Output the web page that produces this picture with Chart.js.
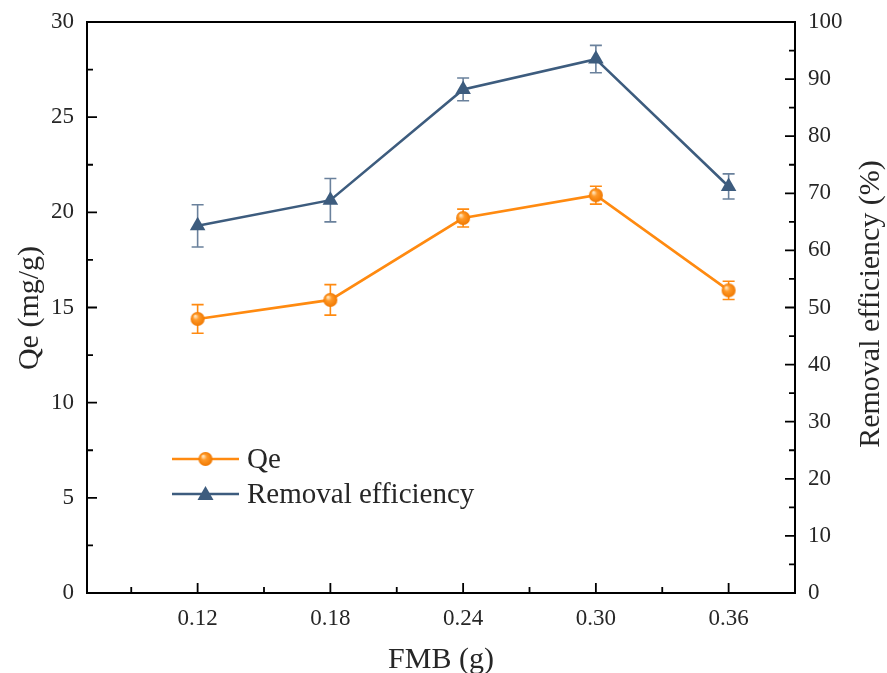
<!DOCTYPE html>
<html><head><meta charset="utf-8">
<script src="https://cdn.jsdelivr.net/npm/chart.js@4/dist/chart.umd.min.js"></script>
<style>html,body{margin:0;padding:0;background:#fff}</style>
</head><body>
<canvas id="c" width="887" height="673"></canvas>
<script>
const fmb = [0.12, 0.18, 0.24, 0.30, 0.36];
const qe = [14.4, 15.4, 19.7, 20.9, 15.9];
const qeErr = [0.75, 0.8, 0.47, 0.47, 0.48];
const removal = [64.3, 68.8, 88.2, 93.5, 71.2];
const removalErr = [3.7, 3.8, 2.0, 2.4, 2.2];
const xTicks = [0.12, 0.18, 0.24, 0.30, 0.36];
const xMinor = [0.09, 0.15, 0.21, 0.27, 0.33];
const qeTicks = [0, 5, 10, 15, 20, 25, 30];
const qeMinor = [2.5, 7.5, 12.5, 17.5, 22.5, 27.5];
const reTicks = [0, 10, 20, 30, 40, 50, 60, 70, 80, 90, 100];
const reMinor = [5, 15, 25, 35, 45, 55, 65, 75, 85, 95];
const xTitle = 'FMB (g)';
const qeTitle = 'Qe (mg/g)';
const reTitle = 'Removal efficiency (%)';

const ORANGE = '#ff8a10';
const BLUE = '#3d5c7e';
const BLUE_ERR = '#6a819c';
const TEXT = '#262626';
const FONT = '"Liberation Serif", "Times New Roman", serif';

function sphere(r) {
  const cv = document.createElement('canvas');
  cv.width = cv.height = 2 * r + 2;
  const g = cv.getContext('2d');
  const c = r + 1;
  const grad = g.createRadialGradient(c - r * 0.35, c - r * 0.4, r * 0.1, c, c, r);
  grad.addColorStop(0, '#ffe2b8');
  grad.addColorStop(0.35, '#ff9a2a');
  grad.addColorStop(1, '#f07800');
  g.fillStyle = grad;
  g.beginPath(); g.arc(c, c, r, 0, Math.PI * 2); g.fill();
  return cv;
}
const ball = sphere(7);

const extras = {
  id: 'extras',
  beforeDatasetsDraw(chart) {
    const ctx = chart.ctx, x = chart.scales.x;
    const draw = (vals, errs, scale, color) => {
      ctx.save(); ctx.strokeStyle = color; ctx.lineWidth = 1.6;
      fmb.forEach((f, i) => {
        const px = x.getPixelForValue(f);
        const t = scale.getPixelForValue(vals[i] + errs[i]);
        const b = scale.getPixelForValue(vals[i] - errs[i]);
        ctx.beginPath();
        ctx.moveTo(px, t); ctx.lineTo(px, b);
        ctx.moveTo(px - 6, t); ctx.lineTo(px + 6, t);
        ctx.moveTo(px - 6, b); ctx.lineTo(px + 6, b);
        ctx.stroke();
      });
      ctx.restore();
    };
    draw(removal, removalErr, chart.scales.y1, BLUE_ERR);
    draw(qe, qeErr, chart.scales.y, ORANGE);
  },
  afterDraw(chart) {
    const ctx = chart.ctx, a = chart.chartArea;
    const sx = chart.scales.x, sy = chart.scales.y, sr = chart.scales.y1;
    ctx.save();
    ctx.strokeStyle = '#000'; ctx.lineWidth = 2;
    ctx.strokeRect(a.left, a.top, a.right - a.left, a.bottom - a.top);
    ctx.lineWidth = 1.8;
    ctx.beginPath();
    xTicks.forEach(v => { const p = sx.getPixelForValue(v); ctx.moveTo(p, a.bottom); ctx.lineTo(p, a.bottom - 10); });
    xMinor.forEach(v => { const p = sx.getPixelForValue(v); ctx.moveTo(p, a.bottom); ctx.lineTo(p, a.bottom - 6); });
    qeTicks.forEach(v => { const p = sy.getPixelForValue(v); ctx.moveTo(a.left, p); ctx.lineTo(a.left + 10, p); });
    qeMinor.forEach(v => { const p = sy.getPixelForValue(v); ctx.moveTo(a.left, p); ctx.lineTo(a.left + 6, p); });
    reTicks.forEach(v => { const p = sr.getPixelForValue(v); ctx.moveTo(a.right, p); ctx.lineTo(a.right - 10, p); });
    reMinor.forEach(v => { const p = sr.getPixelForValue(v); ctx.moveTo(a.right, p); ctx.lineTo(a.right - 6, p); });
    ctx.stroke();
    // axis titles
    ctx.fillStyle = TEXT;
    ctx.font = '30px ' + FONT;
    ctx.textAlign = 'center';
    ctx.textBaseline = 'alphabetic';
    ctx.fillText(xTitle, (a.left + a.right) / 2, 668);
    ctx.textBaseline = 'middle';
    ctx.save(); ctx.translate(30, 308); ctx.rotate(-Math.PI / 2);
    ctx.fillText(qeTitle, 0, 0); ctx.restore();
    ctx.save(); ctx.translate(871, 304); ctx.rotate(-Math.PI / 2);
    ctx.fillText(reTitle, 0, 0); ctx.restore();
    // legend
    const items = [
      { label: 'Qe', color: ORANGE, y: 459, type: 'ball' },
      { label: 'Removal efficiency', color: BLUE, y: 494, type: 'tri' }
    ];
    ctx.font = '29px ' + FONT; ctx.textAlign = 'left'; ctx.textBaseline = 'middle';
    items.forEach(it => {
      ctx.strokeStyle = it.color; ctx.lineWidth = 2.5;
      ctx.beginPath(); ctx.moveTo(172, it.y); ctx.lineTo(239, it.y); ctx.stroke();
      if (it.type === 'ball') {
        ctx.drawImage(ball, 205.5 - 8, it.y - 8);
      } else {
        ctx.fillStyle = it.color;
        ctx.beginPath(); ctx.moveTo(205.5, it.y - 8); ctx.lineTo(213.5, it.y + 6); ctx.lineTo(197.5, it.y + 6); ctx.closePath(); ctx.fill();
      }
      ctx.fillStyle = TEXT;
      ctx.fillText(it.label, 247, it.y + 1);
    });
    ctx.restore();
  }
};

const noPadV = s => { s.paddingTop = 0; s.paddingBottom = 0; };

new Chart(document.getElementById('c'), {
  type: 'line',
  data: {
    datasets: [
      {
        label: 'Qe', yAxisID: 'y',
        data: fmb.map((f, i) => ({ x: f, y: qe[i] })),
        borderColor: ORANGE, borderWidth: 2.6,
        pointStyle: ball, pointRadius: 7, pointHoverRadius: 7
      },
      {
        label: 'Removal efficiency', yAxisID: 'y1',
        data: fmb.map((f, i) => ({ x: f, y: removal[i] })),
        borderColor: BLUE, backgroundColor: BLUE, borderWidth: 2.6,
        pointStyle: 'triangle', pointRadius: 9, pointHoverRadius: 9, pointBorderWidth: 0
      }
    ]
  },
  options: {
    responsive: false, animation: false, devicePixelRatio: 1,
    layout: { padding: { top: 22, left: 0, right: 0, bottom: 0 } },
    plugins: { legend: { display: false }, tooltip: { enabled: false } },
    scales: {
      x: {
        type: 'linear', min: 0.07, max: 0.39,
        afterBuildTicks: s => { s.ticks = xTicks.map(v => ({ value: v })); },
        afterFit: s => { s.height = 80; s.paddingLeft = 0; s.paddingRight = 0; },
        grid: { display: false, drawTicks: false }, border: { display: false },
        ticks: { callback: v => Number(v).toFixed(2), font: { family: FONT, size: 23 }, color: TEXT, padding: 12, maxRotation: 0, autoSkip: false }
      },
      y: {
        position: 'left', min: 0, max: 30,
        afterBuildTicks: s => { s.ticks = qeTicks.map(v => ({ value: v })); },
        afterFit: s => { s.width = 87; noPadV(s); },
        grid: { display: false, drawTicks: false }, border: { display: false },
        ticks: { font: { family: FONT, size: 23 }, color: TEXT, padding: 13 }
      },
      y1: {
        position: 'right', min: 0, max: 100,
        afterBuildTicks: s => { s.ticks = reTicks.map(v => ({ value: v })); },
        afterFit: s => { s.width = 92; noPadV(s); },
        grid: { display: false, drawTicks: false }, border: { display: false },
        ticks: { font: { family: FONT, size: 23 }, color: TEXT, padding: 13 }
      }
    }
  },
  plugins: [extras]
});
</script>
</body></html>
